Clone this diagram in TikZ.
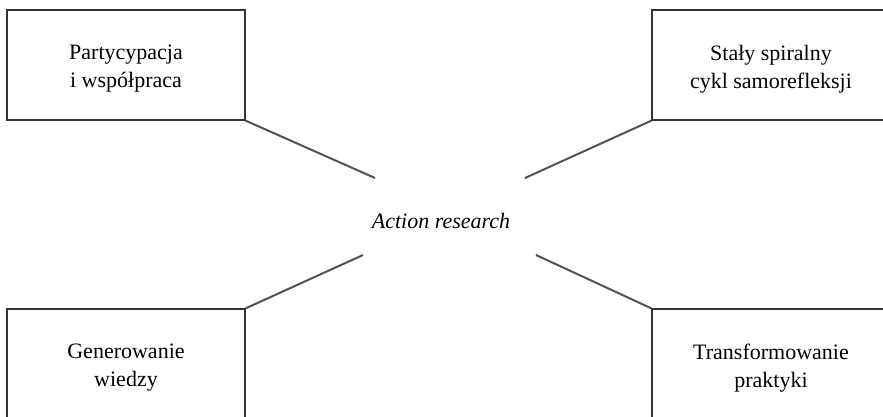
\documentclass[tikz,border=0pt]{standalone}
\usepackage{fontspec}
\setmainfont{Liberation Serif}
\begin{document}
\begin{tikzpicture}[x=1pt,y=-1pt,
  topic/.style={draw=black!80, line width=1.3pt, minimum width=238pt,
    minimum height=110pt, inner sep=0pt},
  caption/.style={align=center, inner sep=0pt,
    font=\fontsize{22}{28}\selectfont},
  spoke/.style={draw=black!68, line width=2pt}]
  \clip (0,0) rectangle (883,416);
  \fill[white] (0,0) rectangle (883,416);

  % frames of the four aspects
  \node[topic] (tl) at (126,65)  {};
  \node[topic] (tr) at (771,65)  {};
  \node[topic] (bl) at (126,364) {};
  \node[topic] (br) at (771,364) {};

  % their captions, set a little below the frame centres
  \node[caption] (tlt) at ([yshift=-4pt]tl.center) {Partycypacja\\i współpraca};
  \node[caption] (trt) at ([yshift=-4pt]tr.center) {Stały spiralny\\cykl samorefleksji};
  \node[caption] (blt) at ([yshift=-4pt]bl.center) {Generowanie\\wiedzy};
  \node[caption] (brt) at ([yshift=-4pt]br.center) {Transformowanie\\praktyki};

  % central idea
  \node[font=\fontsize{22}{28}\selectfont\itshape] (hub) at (441,221) {Action research};

  % spokes stop short of the central label
  \coordinate (etl) at (375,178);
  \coordinate (etr) at (525,178);
  \coordinate (ebl) at (363,255);
  \coordinate (ebr) at (536,255);
  \draw[spoke] (tl.south east) -- (etl);
  \draw[spoke] (tr.south west) -- (etr);
  \draw[spoke] (bl.north east) -- (ebl);
  \draw[spoke] (br.north west) -- (ebr);
\end{tikzpicture}
\end{document}
